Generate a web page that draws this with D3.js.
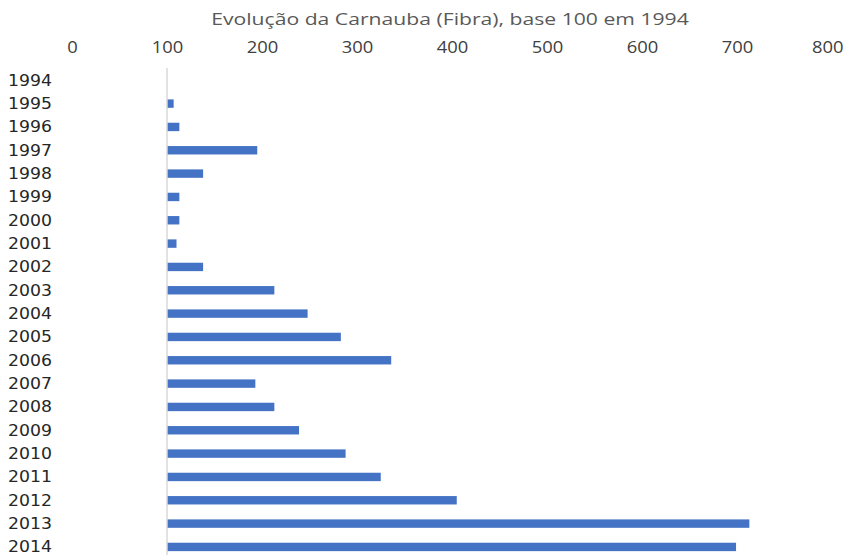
<!DOCTYPE html>
<html>
<head>
<meta charset="utf-8">
<script src="https://cdn.jsdelivr.net/npm/d3@7"></script>
<style>
  body { margin: 0; background: #fff; }
  svg { display: block; }
</style>
</head>
<body>
<div id="chart"></div>
<script>
var years = ["1994","1995","1996","1997","1998","1999","2000","2001","2002","2003","2004",
             "2005","2006","2007","2008","2009","2010","2011","2012","2013","2014"]
var values = [100,107,113,195,138,113,113,110,138,213,248,283,336,193,213,239,288,325,405,713,699]
var ticks = [0,100,200,300,400,500,600,700,800]
var title = "Evolução da Carnauba (Fibra), base 100 em 1994"
var base = 100

var W = 846, H = 555
var svg = d3.select("#chart").append("svg").attr("width", W).attr("height", H)

var x = d3.scaleLinear().domain([0, 800]).range([72, 832])
var y = d3.scaleBand().domain(years).range([68.6, 558.6]).paddingInner(0.64).paddingOuter(0.32)

// stretched text, like the source picture
function stretched(sel, sx, anchorX) {
    sel.attr("transform", "translate(" + anchorX + ",0) scale(" + sx + ",1) translate(" + (-anchorX) + ",0)")
}

svg.append("text").text(title)
    .attr("x", 450).attr("y", 25)
    .attr("text-anchor", "middle")
    .attr("font-family", "Open Sans")
    .attr("font-size", 17)
    .attr("fill", "#595959")
    .call(stretched, 1.245, 450)

// top value axis, labels only
var axis = svg.append("g").attr("transform", "translate(0,53)")
    .call(d3.axisTop(x).tickValues(ticks).tickSize(0).tickPadding(0))
axis.select(".domain").remove()
axis.selectAll("text")
    .attr("font-family", "Open Sans")
    .attr("font-size", 16)
    .attr("fill", "#404040")
    .call(stretched, 1.15, 0)
// keep the last label inside the picture
axis.selectAll(".tick").each(function(d) {
    var t = d3.select(this).select("text")
    var half = t.node().getComputedTextLength() * 1.15 / 2
    var over = x(d) + half - (W - 3)
    if (over > 0) t.attr("x", -over / 1.15)
})

// bars from the base 100
svg.selectAll("rect.bar").data(values).enter().append("rect")
    .attr("class", "bar")
    .attr("x", x(base))
    .attr("y", function(d, i) { return y(years[i]) })
    .attr("width", function(d) { return Math.max(0, x(d) - x(base)) })
    .attr("height", y.bandwidth())
    .attr("fill", "#4472C4")

// category axis line at 100
svg.append("line")
    .attr("x1", x(base)).attr("x2", x(base))
    .attr("y1", 68).attr("y2", H)
    .attr("stroke", "#d9d9d9").attr("stroke-width", 1.5)

// year labels
svg.selectAll("text.year").data(years).enter().append("text")
    .attr("class", "year")
    .text(function(d) { return d })
    .attr("x", 8)
    .attr("y", function(d) { return y(d) + y.bandwidth() / 2 + 5.5 })
    .attr("font-family", "DejaVu Sans")
    .attr("font-size", 16)
    .attr("fill", "#262626")
    .call(stretched, 1.08, 8)
</script>
</body>
</html>
